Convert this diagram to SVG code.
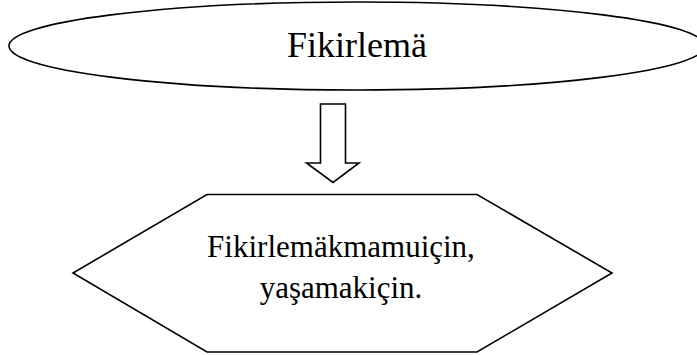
<svg xmlns="http://www.w3.org/2000/svg" width="697" height="355" viewBox="0 0 697 355">
<style>
.shape{fill:#fff;stroke:#000;stroke-width:1.6}
.t{font-family:"Liberation Serif","Times New Roman",serif;fill:#000;text-anchor:middle}
</style>
<rect width="697" height="355" fill="#fff"/>
<g id="node-ellipse">
<ellipse class="shape" cx="357" cy="46" rx="348" ry="44" stroke-width="2"/>
<text class="t" x="357" y="57" font-size="36">Fikirlemä</text>
</g>
<g id="connectors">
<polygon class="shape" points="320.5,104 345.5,104 345.5,163 359,163 333,182.5 306.5,163 320.5,163"/>
</g>
<g id="node-hexagon">
<polygon class="shape" points="207,194.5 477,194.5 612,273 477,352 207,352 73,273"/>
<text class="t" x="341" y="257" font-size="31">Fikirlemäkmamuiçin,</text>
<text class="t" x="341" y="298" font-size="31">yaşamakiçin.</text>
</g>
</svg>
